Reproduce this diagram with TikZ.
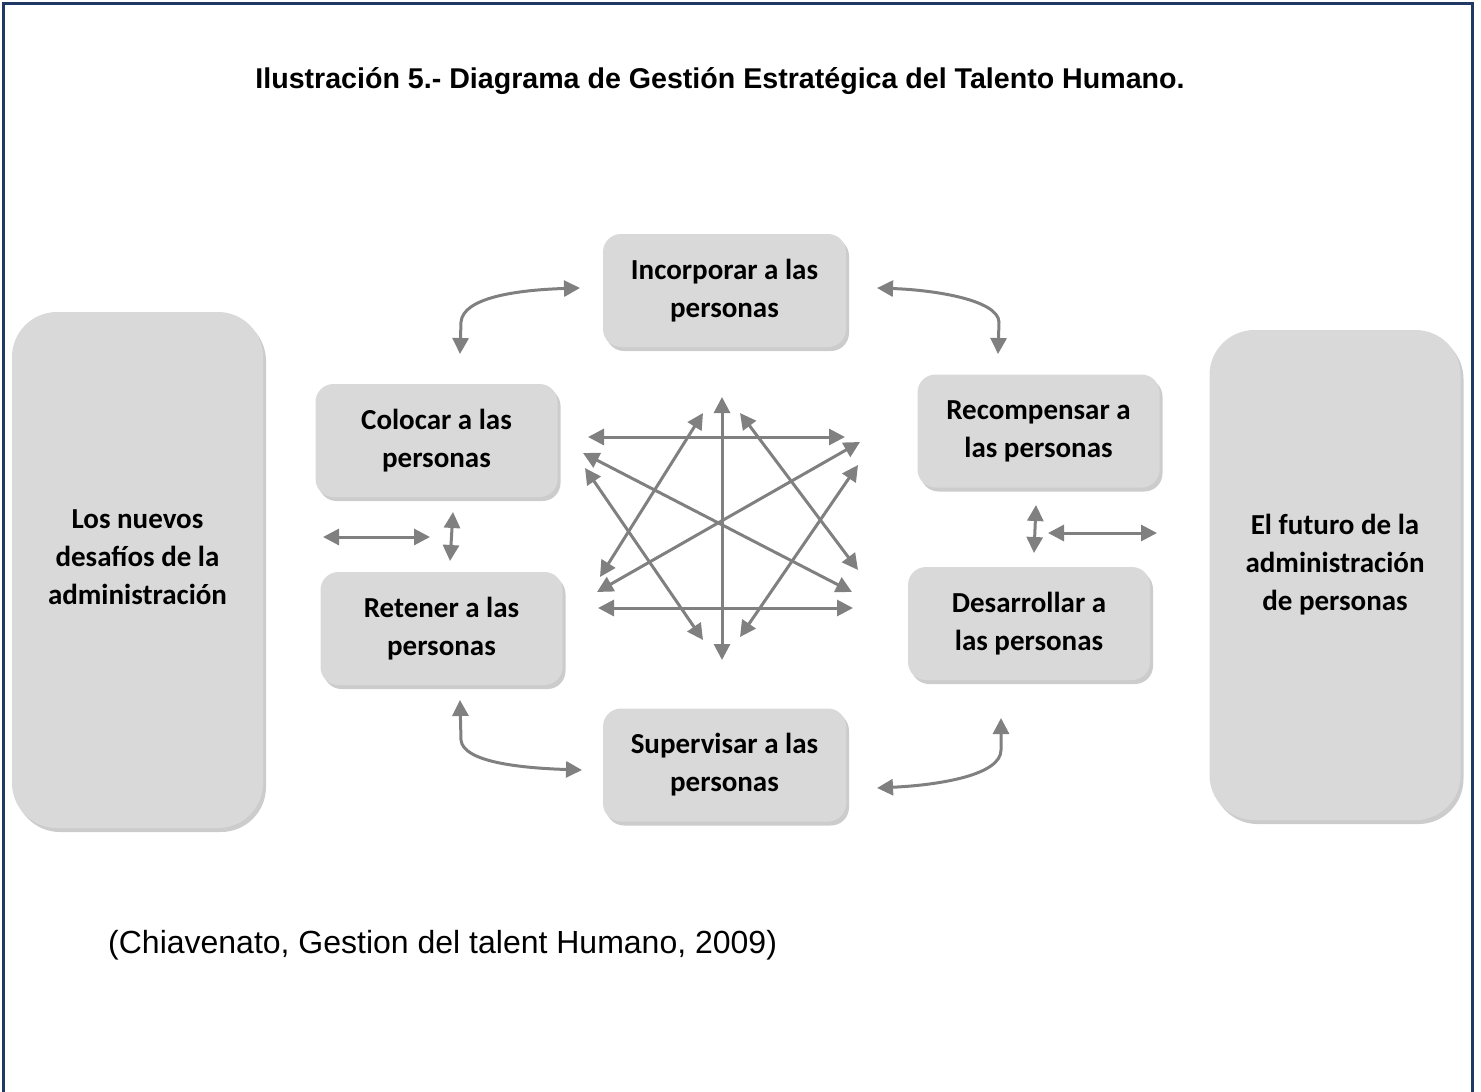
\documentclass[tikz,border=0pt]{standalone}
\usepackage{fontspec}
\setmainfont{Liberation Sans}
\newfontfamily\boxfont{Carlito}
\usetikzlibrary{arrows.meta,shadows}
\definecolor{boxgray}{HTML}{D9D9D9}
\definecolor{arrgray}{HTML}{808080}
\definecolor{framenavy}{HTML}{1F3864}

\begin{document}
\begin{tikzpicture}[x=1pt, y=-1pt, every node/.style={inner sep=0pt},
    box/.style={fill=boxgray, rounded corners=18pt, minimum width=242pt, minimum height=113pt,
      align=center, font=\boxfont\bfseries\fontsize{29}{38}\selectfont,
      drop shadow={shadow xshift=3pt, shadow yshift=-4pt, opacity=.4}},
    bigbox/.style={box, rounded corners=45pt, minimum width=251pt, text depth=26pt},
    arr/.style={draw=arrgray, line width=3pt, <->, >={Triangle[length=16pt,width=16pt]}}]
          \useasboundingbox (0,0) rectangle (1481,1092);
          \draw[framenavy, line width=3pt] (3,1100) -- (3,3) -- (1472,3) -- (1472,1100);   % frame, open at the bottom

          \node[font=\bfseries\fontsize{28.6}{34}\selectfont] (titulo) at (720,81) {Ilustración 5.- Diagrama de Gestión Estratégica del Talento Humano.};

          \node [bigbox, minimum height=516pt] (desafios) at (137.5,570) {Los nuevos\\desafíos de la\\administración};
          \node [bigbox, minimum height=490pt] (futuro) at (1335,575) {El futuro de la\\administración\\de personas};

          \node [box, minimum width=243pt] (inc) at (724.5,290.5) {Incorporar a las\\personas};
          \node [box] (col) at (436.5,440.5) {Colocar a las\\personas};
          \node [box] (ret) at (441.5,628.5) {Retener a las\\personas};
          \node [box] (rec) at (1038.5,431) {Recompensar a\\las personas};
          \node [box] (des) at (1029,623.5) {Desarrollar a\\las personas};
          \node [box, minimum width=243pt] (sup) at (724.5,765) {Supervisar a las\\personas};

          \node[anchor=west, font=\fontsize{32}{38}\selectfont] (cita) at (108,945) {(Chiavenato, Gestion del talent Humano, 2009)};

          % curved arrows round the ring
          \coordinate (tl1) at (460,354);  \coordinate (tl2) at (580,288);
          \coordinate (tr1) at (877,288);  \coordinate (tr2) at (998,354);
          \coordinate (bl1) at (460,700);  \coordinate (bl2) at (582,770);
          \coordinate (br1) at (877,788);  \coordinate (br2) at (1001,718);
          \draw[arr] (tl1) -- (461,322) .. controls (463,298) and (515,290) .. (tl2);
          \draw[arr] (tr1) .. controls (935,290) and (998,300) .. (999,322) -- (tr2);
          \draw[arr] (bl1) -- (461,740) .. controls (463,762) and (520,768) .. (bl2);
          \draw[arr] (br1) .. controls (940,785) and (1001,775) .. (1001,750) -- (br2);

          % short arrows beside the big boxes
          \coordinate (l1) at (323,537);   \coordinate (l2) at (430,537);
          \coordinate (l3) at (453,512);   \coordinate (l4) at (450,561);
          \coordinate (r1) at (1036,505);  \coordinate (r2) at (1034,553);
          \coordinate (r3) at (1048,533);  \coordinate (r4) at (1157,533);
          \draw[arr] (l1) -- (l2);
          \draw[arr] (l3) -- (l4);
          \draw[arr] (r1) -- (r2);
          \draw[arr] (r3) -- (r4);

          % the star in the middle
          \coordinate (s1) at (588,437);   \coordinate (s2) at (845,437);
          \coordinate (s3) at (598,608);   \coordinate (s4) at (853,608);
          \coordinate (s5) at (722,397);   \coordinate (s6) at (722,660);
          \coordinate (s7) at (703,413);   \coordinate (s8) at (600,577);
          \coordinate (s9) at (740,413);   \coordinate (s10) at (858,570);
          \coordinate (s11) at (583,453);  \coordinate (s12) at (852,592);
          \coordinate (s13) at (860,442);  \coordinate (s14) at (597,592);
          \coordinate (s15) at (585,468);  \coordinate (s16) at (703,640);
          \coordinate (s17) at (858,465);  \coordinate (s18) at (740,637);
          \foreach \a/\b in {s1/s2, s3/s4, s5/s6, s7/s8, s9/s10, s11/s12, s13/s14, s15/s16, s17/s18}
            \draw[arr] (\a) -- (\b);
        \end{tikzpicture}
\end{document}
